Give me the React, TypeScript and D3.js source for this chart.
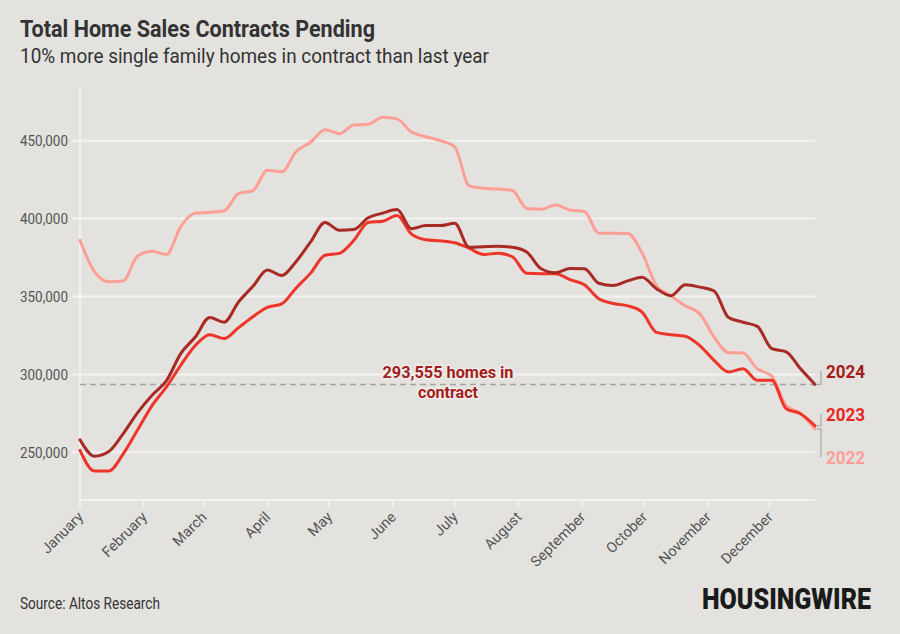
import React from "react";
import * as d3 from "d3";

const W = 900;
const H = 634;

const startDate = new Date(2024, 0, 1);
const endDate = new Date(2024, 11, 23);

const values2022 = [
  386000, 366000, 359500, 360000, 376000, 379000, 377000, 395000, 403500, 404000,
  405000, 416000, 418000, 431000, 430000, 443000, 449000, 457000, 454500, 460000,
  460500, 465000, 464000, 455500, 452500, 450000, 446000, 421000, 419500, 419000,
  418000, 406500, 406000, 408700, 405500, 404500, 390600, 390600, 390500, 378000,
  357000, 350500, 344000, 339000, 324000, 314000, 313700, 303600, 299000, 280000,
  274800, 265000,
];
const values2023 = [
  251300, 238000, 238000, 249000, 264500, 280000, 292000, 306000, 318500, 325500,
  323000, 330000, 337000, 343000, 345300, 355500, 365000, 376500, 377700, 386000,
  397500, 398300, 401900, 390000, 386400, 385700, 384500, 381000, 377000, 377700,
  375500, 364900, 364600, 364600, 360800, 357500, 348500, 345500, 344000, 340000,
  327000, 325500, 324500, 318500, 309000, 301500, 303600, 296200, 296200, 278000,
  274800, 267000,
];
const values2024 = [
  258000, 247500, 250500, 262000, 275500, 286600, 296000, 313500, 324000, 336500,
  333500, 346500, 356500, 367000, 363500, 372500, 385000, 397500, 392500, 393000,
  400500, 403500, 405800, 393500, 395500, 395500, 397000, 381600, 382000, 382200,
  381600, 378500, 367800, 365200, 368000, 367800, 358500, 357000, 360000, 362400,
  355000, 350500, 357500, 356000, 353500, 336500, 333500, 330800, 316500, 314500,
  303600, 293555,
];

const yTicks = [250000, 300000, 350000, 400000, 450000];
const currentValue = 293555;
const annotationLines = ["293,555 homes in", "contract"];

const titleText = "Total Home Sales Contracts Pending";
const subtitleText = "10% more single family homes in contract than last year";
const sourceText = "Source: Altos Research";
const logoText = "HOUSINGWIRE";

const seriesNames = ["2022", "2023", "2024"];
const seriesColors = ["#FCA097", "#EE3529", "#A82A24"];
const labelColors = ["#FCA097", "#E8261F", "#A31D1B"];

const FONT = "Roboto, 'Noto Sans', sans-serif";

export default function App() {
  const x = d3.scaleTime().domain([startDate, endDate]).range([80, 815]);
  const y = d3.scaleLinear().domain([219400, 483800]).range([500, 88]);

  const toSeries = (vals: number[]) =>
    vals.map((v, i) => ({ date: d3.timeDay.offset(startDate, 7 * i), value: v }));
  const allSeries = [values2022, values2023, values2024].map(toSeries);

  const line = d3
    .line<{ date: Date; value: number }>()
    .x((d) => x(d.date))
    .y((d) => y(d.value))
    .curve(d3.curveMonotoneX);

  const months = d3.timeMonth.range(startDate, new Date(2024, 11, 2));
  const fmtMonth = d3.timeFormat("%B");
  const fmtNum = d3.format(",");

  const labelY = [457, 414, 371];
  const connectorX = 821;

  return (
    <svg
      width={W}
      height={H}
      viewBox={`0 0 ${W} ${H}`}
      style={{ position: "absolute", left: 0, top: 0, display: "block" }}
      fontFamily={FONT}
    >
      <rect x={0} y={0} width={W} height={H} fill="#E3E2DE" />

      <text x={20} y={37} fontSize={23} fontWeight={700} fill="#333" textLength={355} lengthAdjust="spacingAndGlyphs">
        {titleText}
      </text>
      <text x={20} y={63} fontSize={20} fill="#333" textLength={469} lengthAdjust="spacingAndGlyphs">
        {subtitleText}
      </text>

      {/* gridlines */}
      {yTicks.map((t) => (
        <g key={t}>
          <line x1={72} x2={815} y1={y(t)} y2={y(t)} stroke="#F3F2F0" strokeWidth={2} />
          <text
            x={68}
            y={y(t)}
            dy="0.35em"
            textAnchor="end"
            fontSize={15}
            fill="#555"
            textLength={48}
            lengthAdjust="spacingAndGlyphs"
          >
            {fmtNum(t)}
          </text>
        </g>
      ))}

      {/* axes */}
      <line x1={80} x2={80} y1={88} y2={501} stroke="#F3F2F0" strokeWidth={2} />
      <line x1={79} x2={815} y1={500} y2={500} stroke="#F3F2F0" strokeWidth={2} />
      {months.map((m) => (
        <g key={m.toISOString()} transform={`translate(${x(m)},0)`}>
          <line x1={0} x2={0} y1={500} y2={507} stroke="#F3F2F0" strokeWidth={2} />
          <text
            transform={`translate(4,518) rotate(-45)`}
            textAnchor="end"
            fontSize={14.5}
            fill="#555"
          >
            {fmtMonth(m)}
          </text>
        </g>
      ))}

      {/* reference dashed line */}
      <line
        x1={80}
        x2={815}
        y1={y(currentValue)}
        y2={y(currentValue)}
        stroke="#A5A5A5"
        strokeWidth={1.5}
        strokeDasharray="6 4"
      />

      {/* series lines */}
      {allSeries.map((s, i) => (
        <path
          key={seriesNames[i]}
          d={line(s) || ""}
          fill="none"
          stroke={seriesColors[i]}
          strokeWidth={3}
          strokeLinejoin="round"
          strokeLinecap="round"
        />
      ))}

      {/* annotation */}
      {annotationLines.map((t, i) => (
        <text
          key={t}
          x={448}
          y={378 + i * 20}
          textAnchor="middle"
          fontSize={17}
          fontWeight={700}
          fill="#A31D1B"
          stroke="#EFEEEB"
          strokeWidth={3}
          paintOrder="stroke"
          strokeLinejoin="round"
          textLength={i === 0 ? 131 : 60}
          lengthAdjust="spacingAndGlyphs"
        >
          {t}
        </text>
      ))}

      {/* end labels with connectors */}
      {allSeries.map((s, i) => {
        const last = s[s.length - 1];
        const ey = y(last.value);
        return (
          <g key={"lab" + seriesNames[i]}>
            <path
              d={`M${connectorX - 4},${ey}L${connectorX},${ey}L${connectorX},${labelY[i]}`}
              fill="none"
              stroke="#B2B2B2"
              strokeWidth={1.5}
            />
            <text
              x={826}
              y={labelY[i]}
              dy="0.36em"
              fontSize={19}
              fontWeight={700}
              fill={labelColors[i]}
              textLength={39}
              lengthAdjust="spacingAndGlyphs"
            >
              {seriesNames[i]}
            </text>
          </g>
        );
      })}

      <text x={20} y={609} fontSize={16} fill="#333" textLength={140} lengthAdjust="spacingAndGlyphs">
        {sourceText}
      </text>
      <text
        x={702}
        y={609}
        fontSize={29}
        fontWeight={900}
        fill="#1B1B1B"
        textLength={169}
        lengthAdjust="spacingAndGlyphs"
      >
        {logoText}
      </text>
    </svg>
  );
}
